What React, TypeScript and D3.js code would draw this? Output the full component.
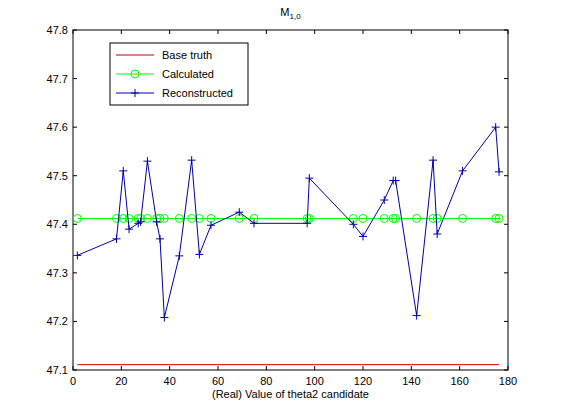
import React from 'react';
import * as d3 from 'd3';

const thetaX = [1.8, 18, 20.8, 23.2, 27, 28, 30.8, 34.6, 36, 37.8, 44, 49.1, 52.3, 57.1, 68.8, 74.9, 96.9, 97.8, 116, 120, 128.8, 132.5, 133.5, 142.2, 149, 150.7, 161.2, 174.9, 176.3];
const reconstructed = [47.336, 47.37, 47.51, 47.39, 47.402, 47.405, 47.53, 47.405, 47.37, 47.208, 47.335, 47.532, 47.338, 47.398, 47.425, 47.402, 47.402, 47.495, 47.40, 47.375, 47.45, 47.49, 47.49, 47.212, 47.532, 47.38, 47.51, 47.60, 47.508];
const calculated = thetaX.map(() => 47.412);
const baseTruth = 47.111;
const xTicks = [0, 20, 40, 60, 80, 100, 120, 140, 160, 180];
const yTicks = [47.1, 47.2, 47.3, 47.4, 47.5, 47.6, 47.7, 47.8];

const W = 561, H = 420;
const m = { left: 73, right: 53, top: 30, bottom: 50 };

export default function App() {
  const x = d3.scaleLinear().domain([0, 180]).range([m.left, W - m.right]);
  const y = d3.scaleLinear().domain([47.1, 47.8]).range([H - m.bottom, m.top]);
  const line = d3.line<number>().x((_, i) => x(thetaX[i])).y(d => y(d));
  const font = { fontFamily: 'Liberation Sans, Arial, sans-serif', fontSize: 11 };
  const x0 = m.left, x1 = W - m.right, y0 = H - m.bottom, y1 = m.top;
  return (
    <svg width={W} height={H} style={{ position: 'absolute', left: 0, top: 0, background: '#fff' }}>
      <g style={font}>
        <rect x={x0} y={y1} width={x1 - x0} height={y0 - y1} fill="#fff" stroke="#000" strokeWidth={1} />
        {xTicks.map(t => (
          <g key={t}>
            <line x1={x(t)} x2={x(t)} y1={y0} y2={y0 - 4} stroke="#000" />
            <line x1={x(t)} x2={x(t)} y1={y1} y2={y1 + 4} stroke="#000" />
            <text x={x(t)} y={y0 + 15} textAnchor="middle">{t}</text>
          </g>
        ))}
        {yTicks.map(t => (
          <g key={t}>
            <line x1={x0} x2={x0 + 4} y1={y(t)} y2={y(t)} stroke="#000" />
            <line x1={x1} x2={x1 - 4} y1={y(t)} y2={y(t)} stroke="#000" />
            <text x={x0 - 5} y={y(t) + 4} textAnchor="end">{t.toFixed(1)}</text>
          </g>
        ))}
        <text x={(x0 + x1) / 2} y={y0 + 28} textAnchor="middle">(Real) Value of theta2 candidate</text>
        <text x={(x0 + x1) / 2} y={16} textAnchor="middle">M<tspan fontSize={8} dy={3}>1,0</tspan></text>

        <line x1={x(thetaX[0])} x2={x(thetaX[thetaX.length - 1])} y1={y(baseTruth)} y2={y(baseTruth)} stroke="#c00000" />
        <path d={line(calculated) || ''} fill="none" stroke="#00ff00" />
        {calculated.map((d, i) => (
          <circle key={i} cx={x(thetaX[i])} cy={y(d)} r={4} fill="none" stroke="#00ff00" />
        ))}
        <path d={line(reconstructed) || ''} fill="none" stroke="#0000aa" />
        {reconstructed.map((d, i) => (
          <path key={i} d={`M${x(thetaX[i]) - 4},${y(d)}h8M${x(thetaX[i])},${y(d) - 4}v8`} stroke="#0000aa" />
        ))}

        <g transform="translate(110,43)">
          <rect width={138} height={62} fill="#fff" stroke="#000" />
          <line x1={6} x2={44} y1={12} y2={12} stroke="#c00000" />
          <text x={52} y={16}>Base truth</text>
          <line x1={6} x2={44} y1={31} y2={31} stroke="#00ff00" />
          <circle cx={25} cy={31} r={4} fill="none" stroke="#00ff00" />
          <text x={52} y={35}>Calculated</text>
          <line x1={6} x2={44} y1={50} y2={50} stroke="#0000aa" />
          <path d="M21,50h8M25,46v8" stroke="#0000aa" />
          <text x={52} y={54}>Reconstructed</text>
        </g>
      </g>
    </svg>
  );
}
